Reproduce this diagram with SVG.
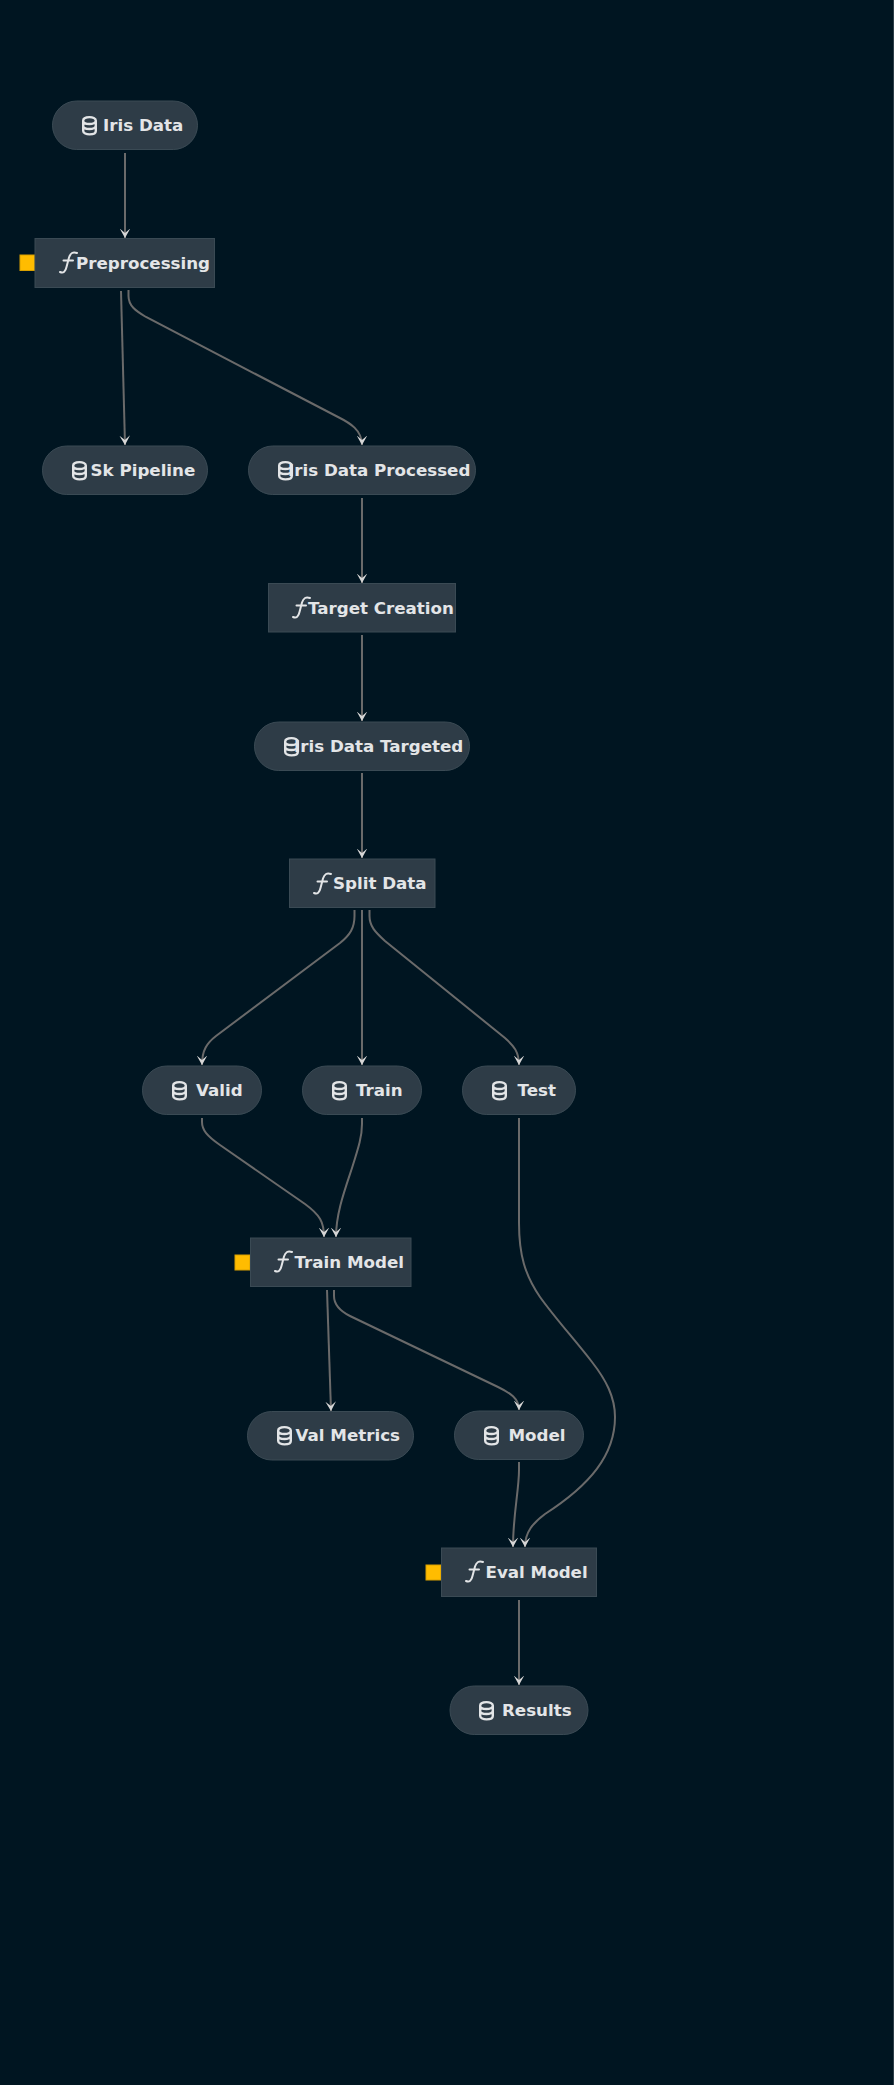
<svg xmlns="http://www.w3.org/2000/svg" width="894" height="2085" viewBox="0 0 894 2085">
<style>
.n{fill:#2e3c47;stroke:#3a4a54;stroke-width:1}
.t{font-family:"DejaVu Sans",sans-serif;font-weight:700;font-size:16.7px;fill:#e3e5e7}
.e{fill:none;stroke:#6a6a6a;stroke-width:2}
.q{fill:#ffbc00;stroke:#d9a000;stroke-width:1}
.i{fill:none;stroke:#e3e5e7;stroke-width:2.4;stroke-linecap:round}
.g{fill:none;stroke:#e3e5e7;stroke-width:2;stroke-linecap:round}
</style>
<defs>
<marker id="a" markerUnits="userSpaceOnUse" markerWidth="12" markerHeight="12" refX="9.5" refY="6" orient="auto"><path d="M0 0.7L9.5 6L0 11.3L4.5 6Z" fill="#d6d6d6"/></marker>
<g id="db"><path class="i" d="M1.2 4.5C1.2 0 13.8 0 13.8 4.5V15C13.8 19.5 1.2 19.5 1.2 15ZM1.2 5C1.2 9 13.8 9 13.8 5M1.2 10C1.2 14 13.8 14 13.8 10"/></g>
<g id="fn"><path class="g" d="M0 20C3.5 21.5 5.5 19.5 6.5 15L9 5.5C10.5 1 13 -0.5 17 1M3.5 8.5H13"/></g>
</defs>
<rect width="894" height="2085" fill="#001521"/>
<rect x="893" y="0" width="1" height="2085" fill="#2e3e48"/>
<g id="connectors">
<path class="e" marker-end="url(#a)" d="M125 153V238"/>
<path class="e" marker-end="url(#a)" d="M121 291L125 445"/>
<path class="e" marker-end="url(#a)" d="M128.5 290V296C128.5 306 136 311 146 317L338 417C350 423 362 430 362 445"/>
<path class="e" marker-end="url(#a)" d="M362 498V583"/>
<path class="e" marker-end="url(#a)" d="M362 635V721"/>
<path class="e" marker-end="url(#a)" d="M362 773V858"/>
<path class="e" marker-end="url(#a)" d="M354.5 910V916C354.5 928 350 935 340 943L216 1036C207 1043 202 1050 202 1065"/>
<path class="e" marker-end="url(#a)" d="M362 910V1065"/>
<path class="e" marker-end="url(#a)" d="M369.5 910V916C369.5 926 375 932 385 941L505 1038C514 1046 519 1052 519 1065"/>
<path class="e" marker-end="url(#a)" d="M202 1118V1122C202 1130 207 1136 220 1145L305 1204C320 1215 324 1222 324 1237"/>
<path class="e" marker-end="url(#a)" d="M362 1118V1124C362 1136 359 1146 352 1168C344 1192 336 1214 336 1237"/>
<path class="e" marker-end="url(#a)" d="M519 1118V1223C519 1255 525 1275 540 1297C555 1318 575 1340 592 1362C606 1380 615 1397 615 1417C615 1455 590 1485 545 1514C533 1523 525 1532 525 1547"/>
<path class="e" marker-end="url(#a)" d="M327 1290L331 1411"/>
<path class="e" marker-end="url(#a)" d="M334 1290V1296C334 1305 340 1311 350 1316L498 1387C510 1393 519 1398 519 1410"/>
<path class="e" marker-end="url(#a)" d="M519 1462V1470C519 1490 513 1515 513 1547"/>
<path class="e" marker-end="url(#a)" d="M519 1600V1685"/>
</g>
<g id="iris-data"><rect class="n" x="52.5" y="101" width="145" height="48.5" rx="24.25"/><use href="#db" x="82" y="116"/><text class="t" x="103" y="130.5">Iris Data</text></g>
<g id="preprocessing"><rect class="q" x="20" y="255" width="15" height="15.5"/><rect class="n" x="35" y="238.5" width="179.5" height="49"/><use href="#fn" x="60" y="252"/><text class="t" x="76" y="268.5">Preprocessing</text></g>
<g id="sk-pipeline"><rect class="n" x="42.5" y="446" width="165" height="48.5" rx="24.25"/><use href="#db" x="72" y="461"/><text class="t" x="90.5" y="475.5">Sk Pipeline</text></g>
<g id="iris-data-processed"><rect class="n" x="248.5" y="446" width="227" height="48.5" rx="24.25"/><use href="#db" x="278" y="461"/><text class="t" x="288" y="475.5">Iris Data Processed</text></g>
<g id="target-creation"><rect class="n" x="268.5" y="583.5" width="187" height="48.5"/><use href="#fn" x="293" y="597"/><text class="t" x="308" y="613.5">Target Creation</text></g>
<g id="iris-data-targeted"><rect class="n" x="254.5" y="722" width="215" height="48.5" rx="24.25"/><use href="#db" x="284" y="737"/><text class="t" x="294" y="751.5">Iris Data Targeted</text></g>
<g id="split-data"><rect class="n" x="289.5" y="859" width="145.5" height="48.5"/><use href="#fn" x="314" y="873"/><text class="t" x="333" y="888.5">Split Data</text></g>
<g id="valid"><rect class="n" x="142.5" y="1066" width="119" height="48.5" rx="24.25"/><use href="#db" x="172" y="1081"/><text class="t" x="196" y="1095.5">Valid</text></g>
<g id="train"><rect class="n" x="302.5" y="1066" width="119" height="48.5" rx="24.25"/><use href="#db" x="332" y="1081"/><text class="t" x="356" y="1095.5">Train</text></g>
<g id="test"><rect class="n" x="462.5" y="1066" width="113" height="48.5" rx="24.25"/><use href="#db" x="492" y="1081"/><text class="t" x="517.5" y="1095.5">Test</text></g>
<g id="train-model"><rect class="q" x="235" y="1255" width="15" height="15"/><rect class="n" x="250.5" y="1238" width="160.5" height="48.5"/><use href="#fn" x="275" y="1251"/><text class="t" x="294.5" y="1267.5">Train Model</text></g>
<g id="val-metrics"><rect class="n" x="247.5" y="1411.5" width="166" height="48.5" rx="24.25"/><use href="#db" x="277" y="1426"/><text class="t" x="295.5" y="1441">Val Metrics</text></g>
<g id="model"><rect class="n" x="454.5" y="1411" width="129" height="48.5" rx="24.25"/><use href="#db" x="484" y="1426"/><text class="t" x="508.5" y="1440.5">Model</text></g>
<g id="eval-model"><rect class="q" x="426" y="1565" width="15" height="15"/><rect class="n" x="441.5" y="1548" width="155" height="48.5"/><use href="#fn" x="466" y="1561"/><text class="t" x="485.5" y="1577.5">Eval Model</text></g>
<g id="results"><rect class="n" x="450" y="1686" width="138" height="48.5" rx="24.25"/><use href="#db" x="479" y="1701"/><text class="t" x="502" y="1715.5">Results</text></g>
</svg>
